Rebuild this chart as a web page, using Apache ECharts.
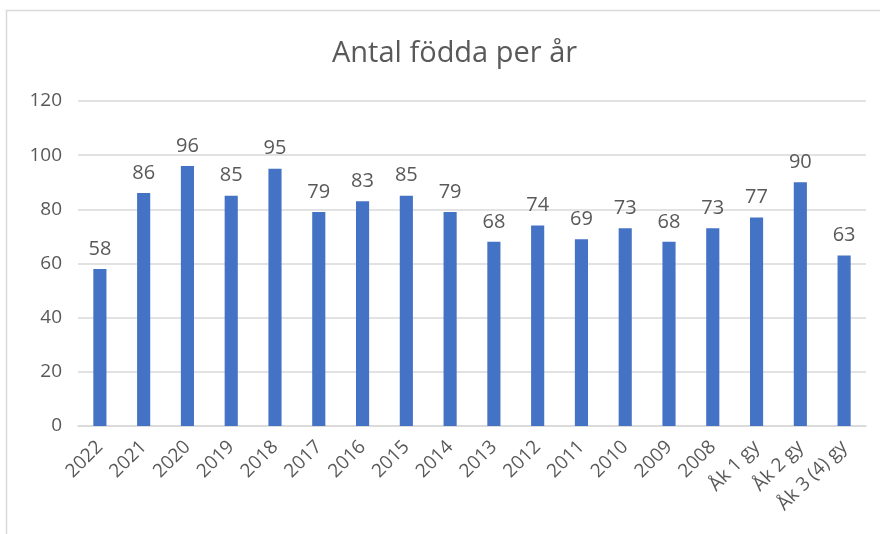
<!DOCTYPE html>
<html>
<head>
<meta charset="utf-8">
<script src="https://cdn.jsdelivr.net/npm/echarts@6/dist/echarts.min.js"></script>
<style>
  html, body { margin: 0; padding: 0; background: #fff; }
  #chart { width: 880px; height: 534px; }
</style>
</head>
<body>
<div id="chart"></div>
<script>
const categories = ['2022', '2021', '2020', '2019', '2018', '2017', '2016', '2015', '2014', '2013',
  '2012', '2011', '2010', '2009', '2008', 'Åk 1 gy', 'Åk 2 gy', 'Åk 3 (4) gy'];
const births = [58, 86, 96, 85, 95, 79, 83, 85, 79, 68, 74, 69, 73, 68, 73, 77, 90, 63];

const chart = echarts.init(document.getElementById('chart'));
const textColor = '#595959';
const font = 'Open Sans, Noto Sans, sans-serif';

chart.setOption({
  animation: false,
  graphic: [{
    type: 'rect',
    shape: { x: 6.5, y: 10.5, width: 900, height: 560 },
    style: { fill: 'none', stroke: '#d9d9d9', lineWidth: 1.5 },
    silent: true
  }],
  title: {
    text: 'Antal födda per år',
    left: 327,
    top: 34,
    textStyle: { color: textColor, fontSize: 29, fontWeight: 'normal', fontFamily: font }
  },
  grid: { left: 78, right: 14, top: 101, bottom: 108 },
  xAxis: {
    type: 'category',
    data: categories,
    axisLine: { lineStyle: { color: '#d9d9d9', width: 1.5 } },
    axisTick: { show: false },
    axisLabel: {
      rotate: 45, interval: 0, color: textColor, fontSize: 19, fontFamily: font, margin: 18
    }
  },
  yAxis: {
    type: 'value',
    min: 0, max: 120, interval: 20,
    axisLine: { show: false },
    axisTick: { show: false },
    splitLine: { lineStyle: { color: '#d9d9d9', width: 1.5 } },
    axisLabel: { color: textColor, fontSize: 19, fontFamily: font, margin: 16 }
  },
  series: [{
    type: 'bar',
    data: births,
    barWidth: '30%',
    itemStyle: { color: '#4472C4' },
    label: {
      show: true, position: 'top', distance: 10,
      color: textColor, fontSize: 20, fontFamily: font
    }
  }]
});
</script>
</body>
</html>
